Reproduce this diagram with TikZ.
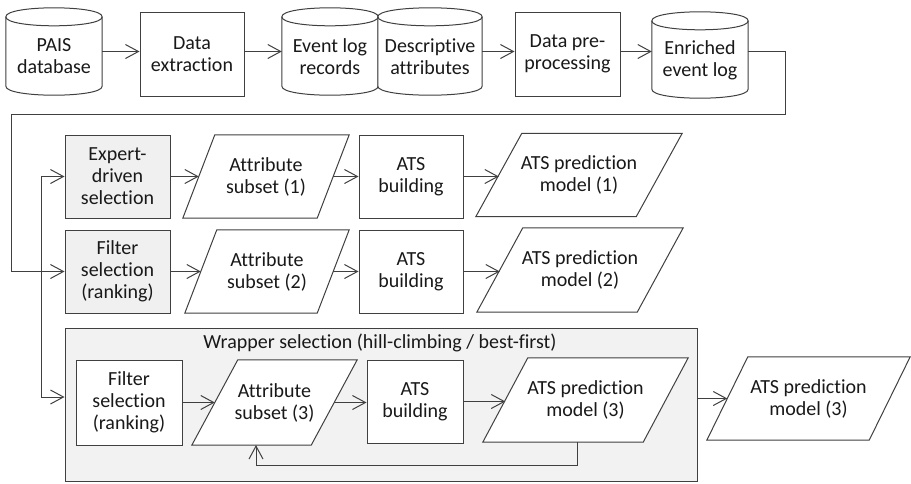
\documentclass[tikz,border=0pt]{standalone}
\usepackage{fontspec}
\setmainfont{Carlito}[Ligatures=NoCommon]
\usetikzlibrary{arrows.meta,calc}
\pgfdeclarelayer{bg}
\pgfdeclarelayer{mid}
\pgfsetlayers{bg,mid,main}
\definecolor{ln}{RGB}{64,64,64}
\definecolor{gf}{RGB}{240,240,240}
\definecolor{wf}{RGB}{242,242,242}
\definecolor{tx}{RGB}{25,25,25}
\newcommand\cylout[1]{%
  \draw[ln1, fill=white]
    ([yshift=-9pt]#1.north west) -- ([yshift=9pt]#1.south west)
    .. controls +(0pt,-12pt) and +(0pt,-12pt) .. ([yshift=9pt]#1.south east)
    -- ([yshift=-9pt]#1.north east)
    .. controls +(0pt,12pt) and +(0pt,12pt) .. ([yshift=-9pt]#1.north west) -- cycle;
  \draw[ln1] ([yshift=-9pt]#1.north west)
    .. controls +(0pt,-12pt) and +(0pt,-12pt) .. ([yshift=-9pt]#1.north east);}
\newcommand\paraout[2]{%
  \draw[ln1, fill=white] ([xshift=-#2]#1.south west) -- ([xshift=#2]#1.north west)
    -- ([xshift=#2]#1.north east) -- ([xshift=-#2]#1.south east) -- cycle;}
\begin{document}
\begin{tikzpicture}[x=1pt,y=-1pt,
  every node/.style={font=\fontsize{20}{22}\selectfont, text=tx, align=center, inner sep=0pt},
  rbox/.style 2 args={draw=ln, line width=1pt, fill=white, minimum width=#1, minimum height=#2},
  gbox/.style 2 args={rbox={#1}{#2}, fill=gf},
  shp/.style 2 args={minimum width=#1, minimum height=#2},
  arr/.style={draw=ln, line width=1pt, -{Straight Barb[length=13pt,width=14pt]}},
  ln1/.style={draw=ln, line width=1pt},
]
\useasboundingbox (0,0) rectangle (911,483);
\begin{pgfonlayer}{bg}
\fill[white] (0,0) rectangle (911,483);
\end{pgfonlayer}

% top row
\node[shp={96pt}{87pt}, label={[yshift=-5pt]center:{PAIS\\database}}] (pais) at (54,51.5) {};
\node[rbox={104pt}{84pt}] (dext) at (192,54) {Data\\extraction};
\node[shp={96pt}{87pt}, label={[yshift=-5pt]center:{Event log\\records}}] (evlog) at (330,51.5) {};
\node[shp={104pt}{87pt}, label={[yshift=-5pt]center:{Descriptive\\attributes}}] (desc) at (430,51.5) {};
\node[rbox={105pt}{84pt}] (dpre) at (567.5,54) {Data pre-\\processing};
\node[shp={96pt}{86pt}, label={[yshift=-5pt]center:{Enriched\\event log}}] (enr) at (700,55) {};

% row 1
\node[gbox={105pt}{83pt}] (exp) at (117.5,176.5) {Expert-\\driven\\selection};
\node[shp={134pt}{83pt}] (at1) at (266,176.5) {Attribute\\subset (1)};
\node[rbox={104pt}{83pt}] (ats1) at (411,176.5) {ATS\\building};
\node[shp={160pt}{83pt}] (pm1) at (579,175) {ATS prediction\\model (1)};

% row 2
\node[gbox={105pt}{83pt}] (fil2) at (117.5,271.5) {Filter\\selection\\(ranking)};
\node[shp={132pt}{83pt}] (at2) at (267,271.5) {Attribute\\subset (2)};
\node[rbox={104pt}{83pt}] (ats2) at (411,271.5) {ATS\\building};
\node[shp={160pt}{84pt}] (pm2) at (580,270) {ATS prediction\\model (2)};

% wrapper
\begin{pgfonlayer}{bg}
\node[draw=ln, line width=1pt, fill=wf, minimum width=632pt, minimum height=153pt] (wrap) at (381,404.5) {};
\end{pgfonlayer}
\node (wt) at (380,343) {Wrapper selection (hill-climbing / best-first)};
\node[rbox={106pt}{85pt}] (fil3) at (129,402.5) {Filter\\selection\\(ranking)};
\node[shp={119pt}{85pt}] (at3) at (274.5,402.5) {Attribute\\subset (3)};
\node[rbox={96pt}{83pt}] (ats3) at (415,401.5) {ATS\\building};
\node[shp={160pt}{84pt}] (pm3) at (585.5,400) {ATS prediction\\model (3)};
\node[shp={162pt}{83pt}] (pmo) at (808.5,398.5) {ATS prediction\\model (3)};

% shapes
\begin{pgfonlayer}{mid}
\cylout{pais}
\cylout{evlog}
\cylout{desc}
\cylout{enr}
\paraout{at1}{16pt}
\paraout{at2}{16pt}
\paraout{pm1}{23pt}
\paraout{pm2}{23pt}
\paraout{at3}{23pt}
\paraout{pm3}{22.5pt}
\paraout{pmo}{20.5pt}
\end{pgfonlayer}

% coordinates
\coordinate (c1) at (785,114);
\coordinate (c2) at (11,114);
\coordinate (jn) at (41,397);
\coordinate (fb) at (577,442);
\coordinate (fbt) at (256,445);

% connectors top
\draw[arr] (pais.east) -- (pais.east -| dext.west);
\draw[arr] (dext.east |- pais.east) -- (pais.east -| evlog.west);
\draw[arr] (desc.east) -- (desc.east -| dpre.west);
\draw[arr] (dpre.east |- desc.east) -- (desc.east -| enr.west);
\draw[arr] (enr.east |- desc.east) -| (c1) -- (c2) |- (fil2.west);
\draw[arr] (jn) |- (exp.west);
\draw[arr] (jn) -- (jn -| wrap.west);

% row 1
\draw[arr] (exp.east) -- (exp.east -| at1.west);
\draw[arr] (at1.east) -- (at1.east -| ats1.west);
\draw[arr] (ats1.east) -- (ats1.east -| pm1.west);
% row 2
\draw[arr] (fil2.east) -- (fil2.east -| at2.west);
\draw[arr] (at2.east) -- (at2.east -| ats2.west);
\draw[arr] (ats2.east) -- (ats2.east -| pm2.west);
% row 3
\draw[arr] (fil3.east) -- (fil3.east -| at3.west);
\draw[arr] (at3.east) -- (at3.east -| ats3.west);
\draw[arr] (ats3.east) -- (ats3.east -| pm3.west);
\draw[arr] (pmo.west -| wrap.east) -- (pmo.west);
\draw[arr] (fb) -- ++(0pt,-23pt) -| (fbt);
\end{tikzpicture}
\end{document}
